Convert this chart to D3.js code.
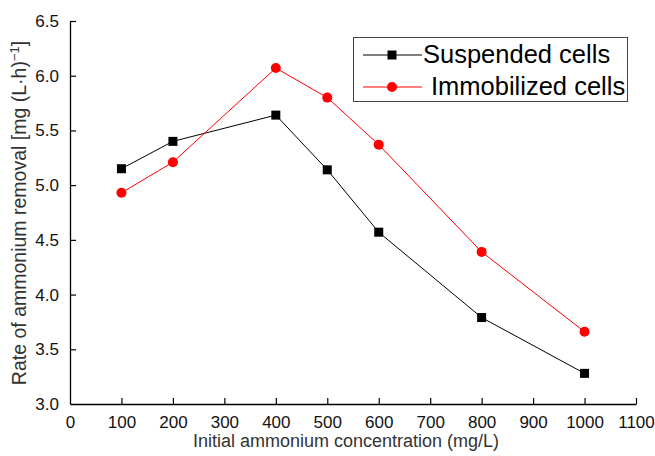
<!DOCTYPE html>
<html><head><meta charset="utf-8">
<script src="https://cdn.jsdelivr.net/npm/d3@7"></script>
<style>body{margin:0;background:#fff}svg{display:block}text{font-family:"Liberation Sans",Arial,sans-serif}</style>
</head><body><svg id="c" width="655" height="456"></svg>
<script>
const concentrations = [100, 200, 400, 500, 600, 800, 1000];
const suspended = [5.15, 5.40, 5.64, 5.14, 4.57, 3.79, 3.28];
const immobilized = [4.93, 5.21, 6.07, 5.80, 5.37, 4.39, 3.66];
const seriesNames = ["Suspended cells", "Immobilized cells"];
const xTicks = [0,100,200,300,400,500,600,700,800,900,1000,1100];
const yTicks = [3.0,3.5,4.0,4.5,5.0,5.5,6.0,6.5];

const svg = d3.select("#c");
const x = d3.scaleLinear().domain([0,1100]).range([70,636]);
const y = d3.scaleLinear().domain([3.0,6.5]).range([404,21]);

// axes
const xAxis = svg.append("g").attr("transform","translate(0,404)")
  .call(d3.axisBottom(x).tickValues(xTicks).tickSizeInner(-6).tickSizeOuter(0).tickPadding(12).tickFormat(d3.format("d")));
const yAxis = svg.append("g").attr("transform","translate(70,0)")
  .call(d3.axisLeft(y).tickValues(yTicks).tickSizeInner(-6).tickSizeOuter(0).tickPadding(11).tickFormat(d3.format(".1f")));
[xAxis,yAxis].forEach(a=>{
  a.selectAll("path").attr("stroke","#000").attr("stroke-width",1.3);
  a.selectAll("line").attr("stroke","#000").attr("stroke-width",1.2);
  a.selectAll("text").attr("font-size",17).attr("fill","#111").style("font-family","'Liberation Sans',Arial,sans-serif");
});
xAxis.selectAll(".tick").filter(d=>d===0).select("line").remove();
yAxis.selectAll(".tick").filter(d=>d===3).select("line").remove();

// titles
svg.append("text").attr("x",346).attr("y",447).attr("text-anchor","middle")
  .attr("font-size",18).attr("fill","#333").text("Initial ammonium concentration (mg/L)");
const yt = svg.append("text").attr("transform","translate(26,213) rotate(-90)")
  .attr("text-anchor","middle").attr("font-size",19.5).attr("fill","#333");
yt.append("tspan").text("Rate of ammonium removal [mg (L\u00b7h)");
yt.append("tspan").attr("dy",-7).attr("font-size",13).text("\u22121");
yt.append("tspan").attr("dy",7).text("]");

// lines
const line = d3.line().x((d,i)=>x(concentrations[i])).y(d=>y(d));
svg.append("path").datum(suspended).attr("d",line).attr("fill","none").attr("stroke","#000").attr("stroke-width",1);
svg.append("path").datum(immobilized).attr("d",line).attr("fill","none").attr("stroke","#ff0000").attr("stroke-width",1);
svg.selectAll(".sq").data(suspended).enter().append("rect")
  .attr("x",(d,i)=>x(concentrations[i])-4.5).attr("y",d=>y(d)-4.5).attr("width",9).attr("height",9).attr("fill","#000");
svg.selectAll(".ci").data(immobilized).enter().append("circle")
  .attr("cx",(d,i)=>x(concentrations[i])).attr("cy",d=>y(d)).attr("r",5).attr("fill","#ff0000");

// legend
const lg = svg.append("g");
lg.append("rect").attr("x",353.5).attr("y",37.5).attr("width",274).attr("height",64)
  .attr("fill","#fff").attr("stroke","#444").attr("stroke-width",1);
const rows = [{name:seriesNames[0],c:"#000",m:"sq",yy:55,tx:423,by:63},{name:seriesNames[1],c:"#ff0000",m:"ci",yy:87,tx:431,by:95}];
rows.forEach(r=>{
  lg.append("line").attr("x1",363).attr("x2",422).attr("y1",r.yy).attr("y2",r.yy).attr("stroke",r.c).attr("stroke-width",1);
  if(r.m==="sq") lg.append("rect").attr("x",387.5).attr("y",r.yy-4.5).attr("width",9).attr("height",9).attr("fill",r.c);
  else lg.append("circle").attr("cx",392).attr("cy",r.yy).attr("r",5).attr("fill",r.c);
  lg.append("text").attr("x",r.tx).attr("y",r.by).attr("font-size",25.5).attr("fill","#000").text(r.name);
});
</script></body></html>
